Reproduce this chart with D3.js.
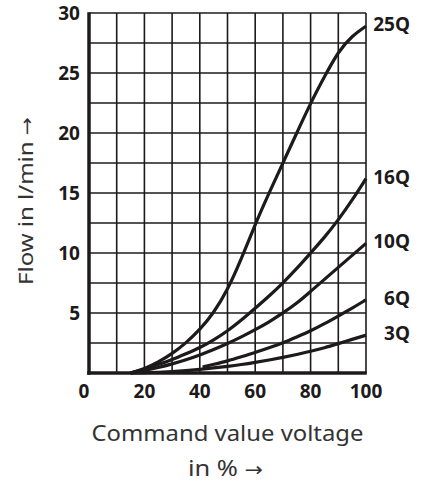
<!DOCTYPE html>
<html><head><meta charset="utf-8">
<script src="https://cdn.jsdelivr.net/npm/d3@7/dist/d3.min.js"></script>
<style>
html,body{margin:0;padding:0;background:#fff;}
svg{display:block;}
</style></head>
<body>
<svg id="chart" width="421" height="484"></svg>
<script>
// ---- data ----
const xTicks = [0, 20, 40, 60, 80, 100];
const yTicks = [5, 10, 15, 20, 25, 30];
const seriesNames = ["25Q", "16Q", "10Q", "6Q", "3Q"];
const q25 = [[15,0],[20,0.35],[25,0.9],[30,1.6],[35,2.5],[40,3.6],[45,5.0],[50,6.9],[55,9.5],[60,12.4],[65,15.0],[70,17.5],[75,20.0],[80,22.5],[85,24.7],[90,26.8],[95,28.1],[100,28.9]];
const q16 = [[15,0],[20,0.3],[25,0.7],[30,1.1],[35,1.6],[40,2.1],[45,2.75],[50,3.5],[55,4.4],[60,5.4],[65,6.4],[70,7.5],[75,8.7],[80,10.0],[85,11.3],[90,12.75],[95,14.4],[100,16.2]];
const q10 = [[15,0],[20,0.2],[25,0.45],[30,0.75],[35,1.1],[40,1.5],[45,1.95],[50,2.45],[55,3.0],[60,3.6],[65,4.25],[70,5.0],[75,5.8],[80,6.8],[85,7.8],[90,8.8],[95,9.8],[100,10.8]];
const q6 = [[41,0.5],[45,0.72],[50,1.0],[55,1.35],[60,1.7],[65,2.1],[70,2.5],[75,3.0],[80,3.5],[85,4.1],[90,4.75],[95,5.4],[100,6.1]];
const q3 = [[15,0],[20,0.02],[25,0.06],[30,0.12],[35,0.2],[40,0.3],[45,0.42],[50,0.55],[55,0.7],[60,0.88],[65,1.08],[70,1.3],[75,1.54],[80,1.8],[85,2.1],[90,2.45],[95,2.8],[100,3.15]];
const seriesValues = [q25, q16, q10, q6, q3];
const xTitle1 = "Command value voltage";
const xTitle2 = "in % ";
const yTitle = "Flow in l/min ";
const arrow = "→";

// ---- drawing ----
const svg = d3.select("#chart");
const x = d3.scaleLinear().domain([0, 100]).range([89, 366]);
const y = d3.scaleLinear().domain([0, 30]).range([373, 13]);
const ink = "#1c1a1a";
const font = "'Noto Sans', 'Open Sans', sans-serif";

// grid
const g = svg.append("g");
g.selectAll("line.v").data(d3.range(10, 101, 10)).join("line")
  .attr("x1", d => x(d)).attr("x2", d => x(d))
  .attr("y1", y(30)).attr("y2", y(0))
  .attr("stroke", ink).attr("stroke-width", 1.6);
g.selectAll("line.h").data(d3.range(2.5, 30.01, 2.5)).join("line")
  .attr("x1", x(0)).attr("x2", x(100))
  .attr("y1", d => y(d)).attr("y2", d => y(d))
  .attr("stroke", ink).attr("stroke-width", 1.6);

// axes (thick left & bottom)
svg.append("line").attr("x1", x(0)).attr("x2", x(0)).attr("y1", y(30) - 0.8).attr("y2", y(0) + 1.8)
  .attr("stroke", ink).attr("stroke-width", 3.5);
svg.append("line").attr("x1", x(0) - 1.8).attr("x2", x(100) + 0.8).attr("y1", y(0)).attr("y2", y(0))
  .attr("stroke", ink).attr("stroke-width", 3.5);

// curves
const line = d3.line().x(d => x(d[0])).y(d => y(d[1])).curve(d3.curveBasis);
svg.append("g").selectAll("path").data(seriesValues).join("path")
  .attr("d", line).attr("fill", "none").attr("stroke", ink)
  .attr("stroke-width", 3.2).attr("stroke-linecap", "butt");

// series labels
svg.append("g").selectAll("text").data(seriesValues).join("text")
  .attr("x", 410).attr("y", d => y(d[d.length - 1][1]) - 2)
  .attr("text-anchor", "end").attr("dominant-baseline", "central")
  .attr("font-family", font).attr("font-weight", "bold").attr("font-size", 19)
  .attr("fill", ink).text((d, i) => seriesNames[i]);

// tick labels
svg.append("g").selectAll("text").data(xTicks).join("text")
  .attr("x", d => x(d) - (d === 0 ? 5 : 0)).attr("y", 398)
  .attr("text-anchor", "middle")
  .attr("font-family", font).attr("font-weight", "bold").attr("font-size", 19)
  .attr("fill", ink).text(d => d);
svg.append("g").selectAll("text").data(yTicks).join("text")
  .attr("x", 80).attr("y", d => y(d))
  .attr("text-anchor", "end").attr("dominant-baseline", "central")
  .attr("font-family", font).attr("font-weight", "bold").attr("font-size", 19)
  .attr("fill", ink).text(d => d);

// axis titles
svg.append("text").attr("x", 227.5).attr("y", 441).attr("text-anchor", "middle")
  .attr("font-family", font).attr("font-size", 21).attr("fill", "#333")
  .attr("textLength", 272).attr("lengthAdjust", "spacingAndGlyphs").text(xTitle1);
const t2 = svg.append("text").attr("x", 225.5).attr("y", 476).attr("text-anchor", "middle")
  .attr("font-family", font).attr("font-size", 22).attr("fill", "#333")
  .attr("textLength", 75).attr("lengthAdjust", "spacingAndGlyphs");
t2.append("tspan").text(xTitle2);
t2.append("tspan").attr("font-family", "'DejaVu Sans', sans-serif").attr("font-size", 19).text(arrow);
const t3 = svg.append("text").attr("transform", "translate(33,201) rotate(-90)").attr("text-anchor", "middle")
  .attr("font-family", font).attr("font-size", 20).attr("fill", "#333")
  .attr("textLength", 168).attr("lengthAdjust", "spacingAndGlyphs");
t3.append("tspan").text(yTitle);
t3.append("tspan").attr("font-family", "'DejaVu Sans', sans-serif").attr("font-size", 18).text(arrow);
</script>
</body></html>
